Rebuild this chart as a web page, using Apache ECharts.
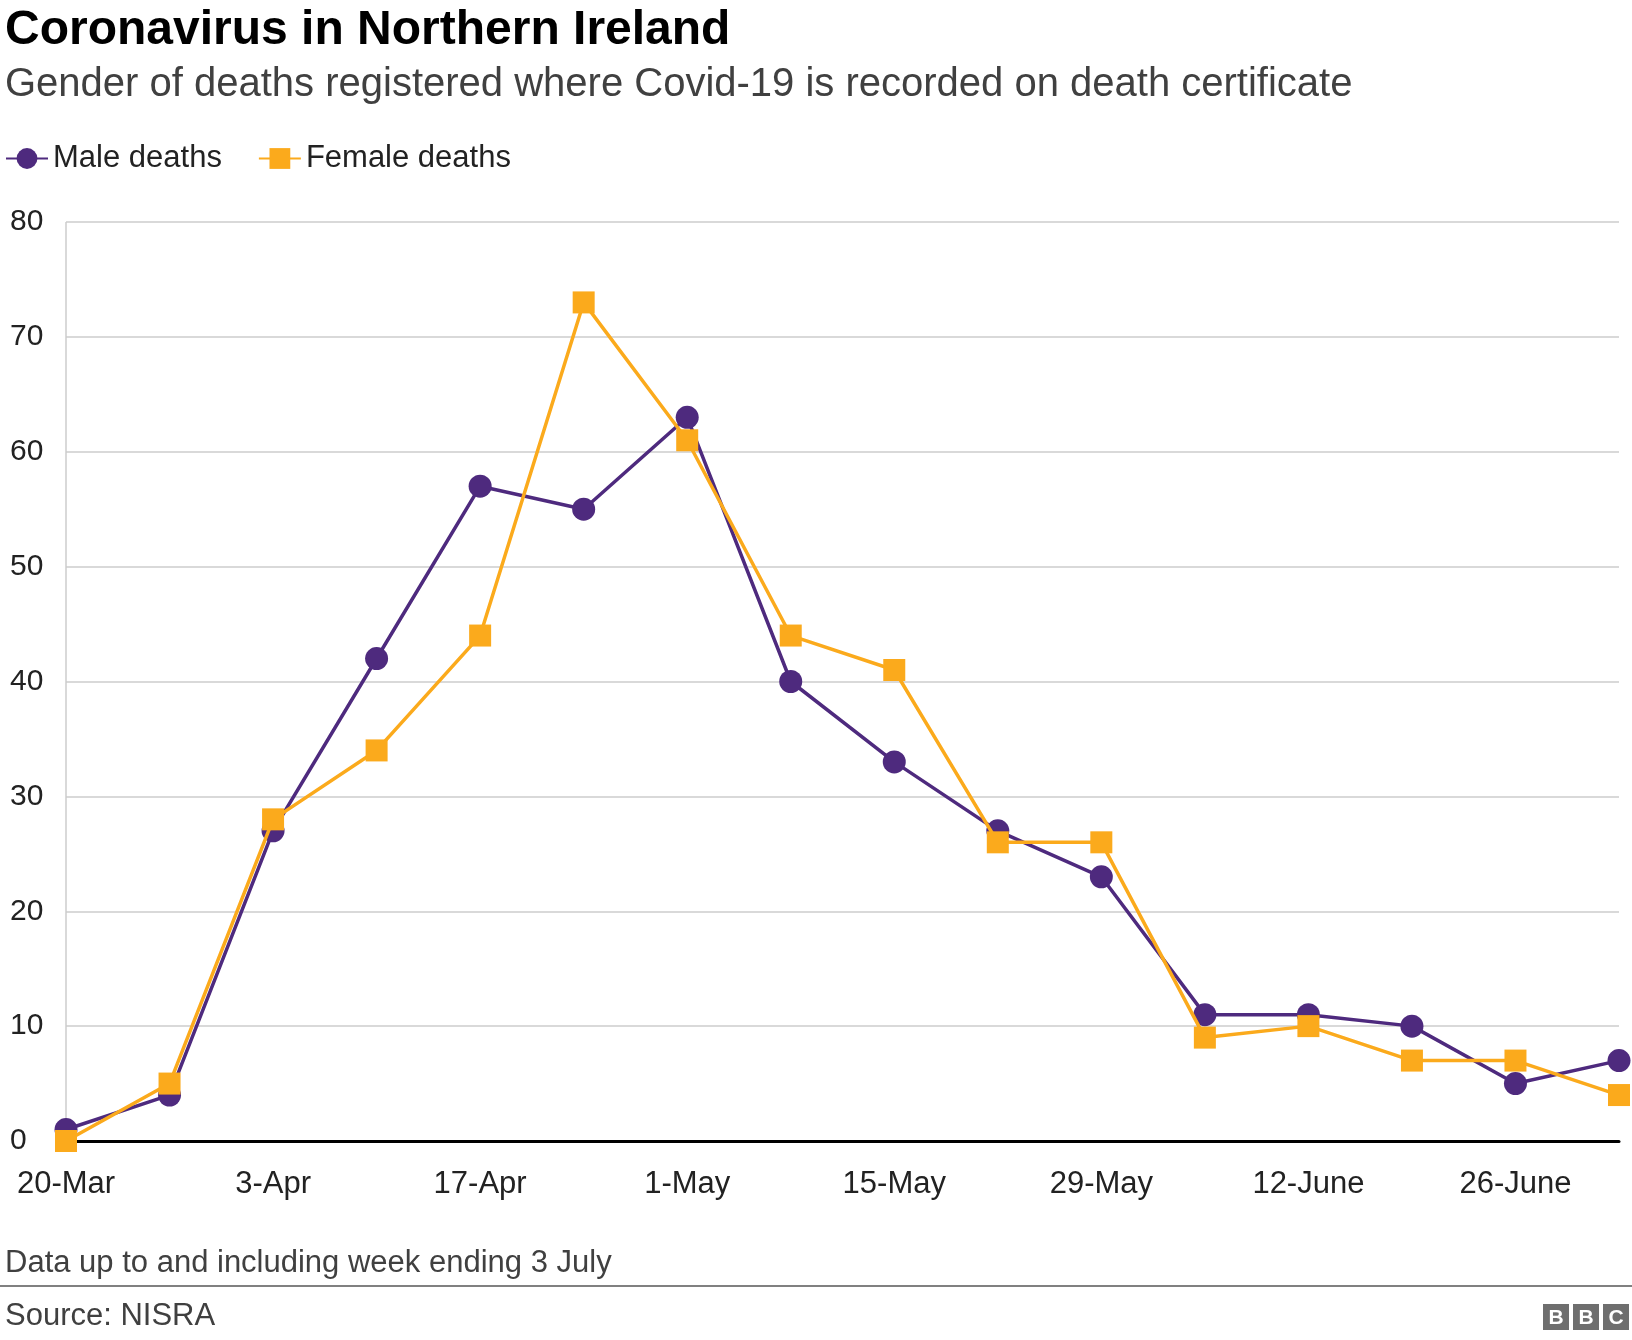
<!DOCTYPE html>
<html>
<head>
<meta charset="utf-8">
<script src="https://cdn.jsdelivr.net/npm/echarts@6/dist/echarts.min.js"></script>
<style>html,body{margin:0;padding:0;background:#fff}#main{width:1632px;height:1340px}</style>
</head>
<body>
<div id="main"></div>
<script>
var weeks = ['20-Mar','27-Mar','3-Apr','10-Apr','17-Apr','24-Apr','1-May','8-May','15-May','22-May','29-May','5-June','12-June','19-June','26-June','3-July'];
var maleDeaths = [1,4,27,42,57,55,63,40,33,27,23,11,11,10,5,7];
var femaleDeaths = [0,5,28,34,44,73,61,44,41,26,26,9,10,7,7,4];
var yTicks = [0,10,20,30,40,50,60,70,80];

var chart = echarts.init(document.getElementById('main'));
var font = 'Arial, "Liberation Sans", Helvetica, sans-serif';
chart.setOption({
  animation: false,
  textStyle: { fontFamily: font },
  title: [
    { text: 'Coronavirus in Northern Ireland', left: 0, top: 2,
      textStyle: { fontSize: 48, fontWeight: 'bold', color: '#000', fontFamily: font } },
    { text: 'Gender of deaths registered where Covid-19 is recorded on death certificate', left: 0, top: 60,
      textStyle: { fontSize: 40, fontWeight: 'normal', color: '#404040', fontFamily: font } },
    { text: 'Data up to and including week ending 3 July', left: 0, top: 1243,
      textStyle: { fontSize: 31, fontWeight: 'normal', color: '#404040', fontFamily: font } },
    { text: 'Source: NISRA', left: 0, top: 1296,
      textStyle: { fontSize: 31, fontWeight: 'normal', color: '#404040', fontFamily: font } }
  ],
  legend: {
    left: 0, top: 138, itemWidth: 42, itemHeight: 26, itemGap: 36,
    textStyle: { fontSize: 31, color: '#222', fontFamily: font },
    data: ['Male deaths', 'Female deaths']
  },
  grid: { left: 66, right: 13, top: 222, bottom: 199 },
  xAxis: {
    type: 'category', boundaryGap: false, data: weeks,
    axisLine: { lineStyle: { color: '#000', width: 3 } },
    axisTick: { show: false },
    axisLabel: { fontSize: 31, color: '#222', margin: 28,
      interval: function (i) { return i % 2 === 0 && i < 15; } }
  },
  yAxis: {
    type: 'value', min: 0, max: 80, interval: 10,
    axisLine: { show: false }, axisTick: { show: false },
    axisLabel: { fontSize: 30, color: '#222', align: 'left', margin: 56,
      formatter: function (v) { return yTicks.indexOf(v) >= 0 ? String(v) : ''; } },
    splitLine: { lineStyle: { color: '#cccccc', width: 1.5 } }
  },
  graphic: [
    { type: 'line', shape: { x1: 0, y1: 1286, x2: 1632, y2: 1286 }, style: { stroke: '#808080', lineWidth: 2 } },
    { type: 'line', shape: { x1: 66, y1: 222, x2: 66, y2: 1141 }, style: { stroke: '#cccccc', lineWidth: 1.5 } },
    { type: 'group', left: 1543, top: 1304, children: [
      { type: 'rect', shape: { x: 0, y: 0, width: 26, height: 26 }, style: { fill: '#6e6e6e' } },
      { type: 'rect', shape: { x: 30, y: 0, width: 26, height: 26 }, style: { fill: '#6e6e6e' } },
      { type: 'rect', shape: { x: 60, y: 0, width: 26, height: 26 }, style: { fill: '#6e6e6e' } },
      { type: 'text', style: { x: 13, y: 14, text: 'B', fill: '#fff', font: 'bold 21px Arial', align: 'center', verticalAlign: 'middle' } },
      { type: 'text', style: { x: 43, y: 14, text: 'B', fill: '#fff', font: 'bold 21px Arial', align: 'center', verticalAlign: 'middle' } },
      { type: 'text', style: { x: 73, y: 14, text: 'C', fill: '#fff', font: 'bold 21px Arial', align: 'center', verticalAlign: 'middle' } }
    ] }
  ],
  series: [
    { name: 'Male deaths', type: 'line', data: maleDeaths, symbol: 'circle', symbolSize: 23,
      itemStyle: { color: '#4e2a7e' }, lineStyle: { width: 3.5, color: '#4e2a7e' }, z: 2 },
    { name: 'Female deaths', type: 'line', data: femaleDeaths, symbol: 'rect', symbolSize: 22,
      itemStyle: { color: '#fbaa1c' }, lineStyle: { width: 3.5, color: '#fbaa1c' }, z: 3 }
  ]
});
</script>
</body>
</html>
